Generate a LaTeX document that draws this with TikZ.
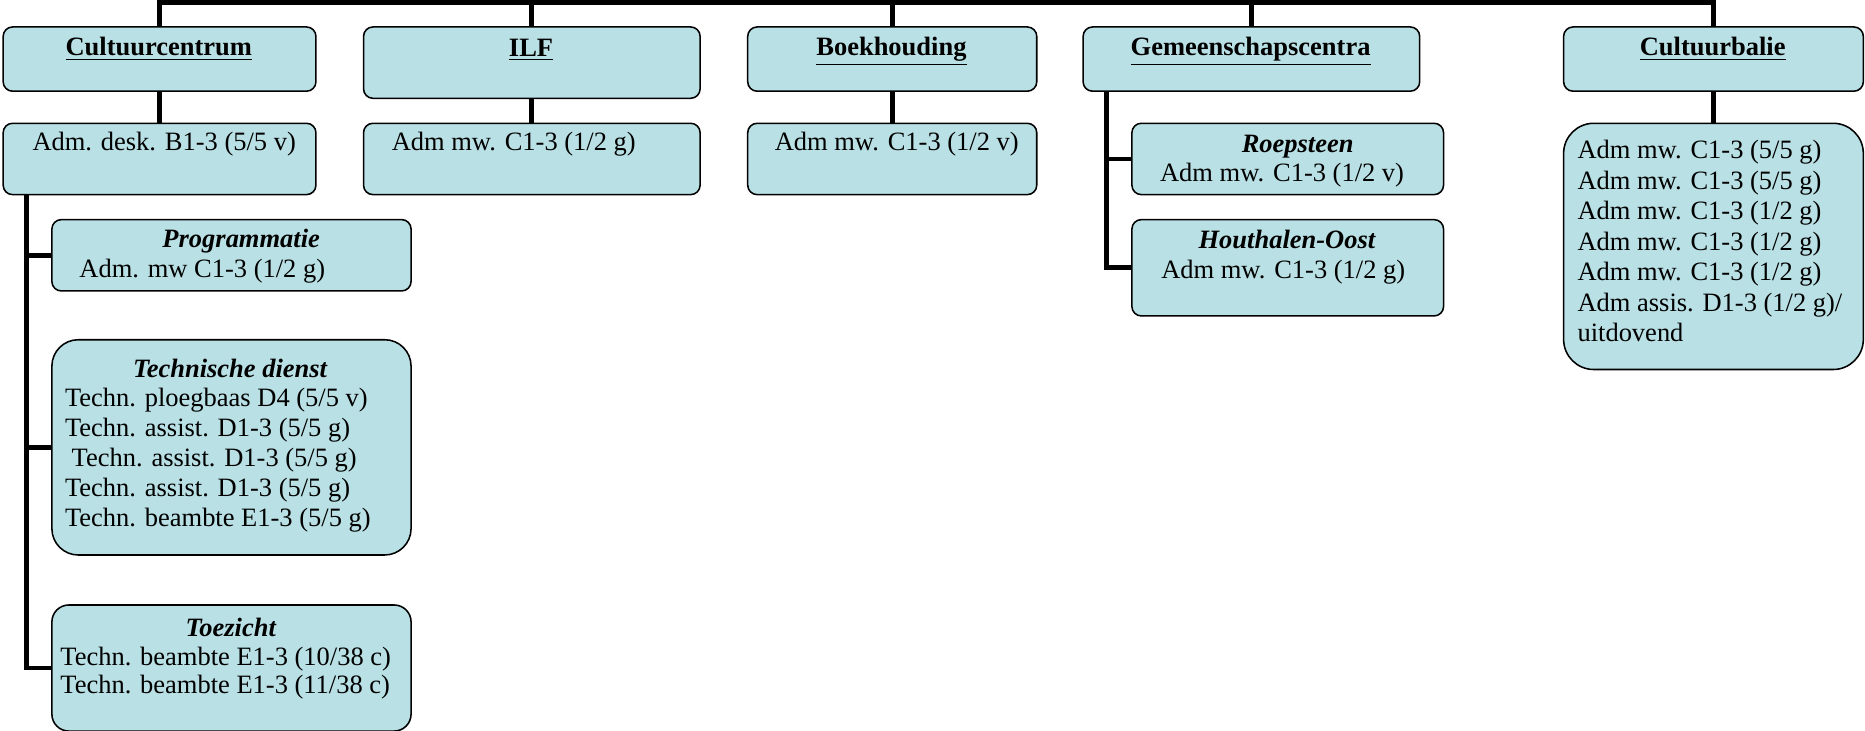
\documentclass[tikz,border=0pt]{standalone}
\usepackage{fontspec}
\setmainfont{Liberation Serif}

\definecolor{unitfill}{RGB}{185,224,228}

\begin{document}
\begin{tikzpicture}[
  unitbox/.style={draw, line width=0.7pt, fill=unitfill, anchor=north west,
    inner sep=0pt, rounded corners=#1},
  unitbox/.default=0.15cm,
  txt/.style={inner sep=0pt, execute at begin node=\strut},
  headtxt/.style={txt, anchor=north, font=\fontsize{12}{13.7}\selectfont\bfseries},
  subtxt/.style={txt, anchor=north, font=\fontsize{12}{13.7}\selectfont\bfseries\itshape},
  bodytxt/.style={txt, anchor=north west, align=left, font=\fontsize{12}{#1}\selectfont},
  bodytxt/.default=13.7,
  linkline/.style={line width=2.2pt}
]
  \useasboundingbox (0,0) rectangle (29.7,-11.641);

  % top row
  \node[unitbox, minimum width=4.981cm, minimum height=1.023cm] (cc) at (0.038,-0.417) {};
  \node[unitbox, minimum width=5.360cm, minimum height=1.136cm] (ilf) at (5.777,-0.417) {};
  \node[unitbox, minimum width=4.603cm, minimum height=1.023cm] (boek) at (11.895,-0.417) {};
  \node[unitbox, minimum width=5.360cm, minimum height=1.023cm] (gc) at (17.236,-0.417) {};
  \node[unitbox, minimum width=4.773cm, minimum height=1.023cm] (cb) at (24.888,-0.417) {};

  \node[headtxt] (cctitle) at (2.529,-0.545) {\underline{Cultuurcentrum}};
  \node[headtxt] (ilftitle) at (8.457,-0.560) {\underline{ILF}};
  \node[headtxt] (boektitle) at (14.196,-0.545) {\underline{Boekhouding}};
  \node[headtxt] (gctitle) at (19.916,-0.540) {\underline{Gemeenschapscentra}};
  \node[headtxt] (cbtitle) at (27.274,-0.545) {\underline{Cultuurbalie}};

  % second row
  \node[unitbox, minimum width=4.981cm, minimum height=1.136cm] (ccadm) at (0.038,-1.951) {};
  \node[unitbox, minimum width=5.360cm, minimum height=1.136cm] (ilfadm) at (5.777,-1.951) {};
  \node[unitbox, minimum width=4.603cm, minimum height=1.136cm] (boekadm) at (11.895,-1.951) {};
  \node[unitbox, minimum width=4.963cm, minimum height=1.136cm] (roep) at (18.013,-1.951) {};
  \node[unitbox, minimum width=4.963cm, minimum height=1.534cm] (hoost) at (18.013,-3.485) {};
  \node[unitbox=0.48cm, minimum width=4.773cm, minimum height=3.921cm] (cbadm) at (24.888,-1.951) {};

  \node[bodytxt] (ccadmtxt) at (0.511,-2.057) {Adm. desk. B1-3 (5/5 v)};
  \node[bodytxt] (ilfadmtxt) at (6.232,-2.057) {Adm mw. C1-3 (1/2 g)};
  \node[bodytxt] (boekadmtxt) at (12.331,-2.057) {Adm mw. C1-3 (1/2 v)};
  \node[subtxt] (roeptitle) at (20.665,-2.078) {Roepsteen};
  \node[bodytxt] (roeptxt) at (18.467,-2.546) {Adm mw. C1-3 (1/2 v)};
  \node[subtxt] (hoosttitle) at (20.494,-3.618) {Houthalen-Oost};
  \node[bodytxt] (hoosttxt) at (18.486,-4.086) {Adm mw. C1-3 (1/2 g)};
  \node[bodytxt=13.85] (cbadmtxt) at (25.115,-2.225) {Adm mw. C1-3 (5/5 g)\\
    Adm mw. C1-3 (5/5 g)\\ Adm mw. C1-3 (1/2 g)\\ Adm mw. C1-3 (1/2 g)\\
    Adm mw. C1-3 (1/2 g)\\ Adm assis. D1-3 (1/2 g)/\\ uitdovend};

  % cultuurcentrum
  \node[unitbox, minimum width=5.720cm, minimum height=1.136cm] (prog) at (0.814,-3.485) {};
  \node[unitbox=0.42cm, minimum width=5.720cm, minimum height=3.428cm] (tech) at (0.814,-5.398) {};
  \node[unitbox=0.27cm, minimum width=5.720cm, minimum height=2.008cm] (toez) at (0.814,-9.622) {};

  \node[subtxt] (progtitle) at (3.841,-3.603) {Programmatie};
  \node[bodytxt] (progtxt) at (1.258,-4.069) {Adm. mw C1-3 (1/2 g)};
  \node[subtxt] (techtitle) at (3.663,-5.664) {Technische dienst};
  \node[bodytxt=13.55] (techtxt) at (1.030,-6.177) {Techn. ploegbaas D4 (5/5 v)\\
    Techn. assist. D1-3 (5/5 g)\\ \ Techn. assist. D1-3 (5/5 g)\\
    Techn. assist. D1-3 (5/5 g)\\ Techn. beambte E1-3 (5/5 g)};
  \node[subtxt] (toeztitle) at (3.674,-9.790) {Toezicht};
  \node[bodytxt=12.8] (toeztxt) at (0.955,-10.293) {Techn. beambte E1-3 (10/38 c)\\
    Techn. beambte E1-3 (11/38 c)};

  \begin{scope}[linkline]
  \coordinate (rail) at (0,-0.038);
  \draw (cc.north) -- (cc.north |- rail) -- (cb.north |- rail) -- (cb.north);
  \foreach \u in {ilf,boek,gc}
    \draw (\u.north) -- (\u.north |- rail);
  \draw (cc) -- (ccadm);
  \draw (ilf) -- (ilfadm);
  \draw (boek) -- (boekadm);
  \draw (cb) -- (cbadm);
  \foreach \n in {prog,tech,toez}
    \draw ([xshift=0.38cm]ccadm.south west) |- (\n.west);
  \foreach \n in {roep,hoost}
    \draw ([xshift=0.38cm]gc.south west) |- (\n.west);
  \end{scope}
\end{tikzpicture}
\end{document}
